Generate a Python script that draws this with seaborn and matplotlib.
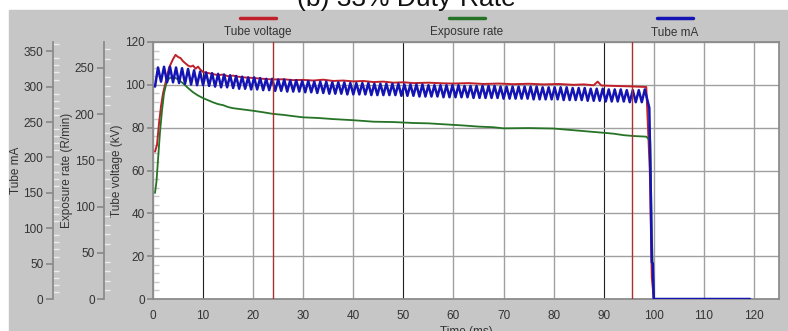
import numpy as np
import matplotlib
matplotlib.use("Agg")
import matplotlib.pyplot as plt
import seaborn as sns
from matplotlib.lines import Line2D
from matplotlib.patches import Rectangle

# tube voltage (kV)
voltage_time = [0.4, 0.8, 1.2, 1.6, 2.0, 2.4, 2.8, 3.2, 3.6, 4.0,
                4.5, 5.0, 5.5, 6.0, 6.5, 7.0, 7.5, 8.0, 8.5, 9.0,
                9.5, 10, 11, 12, 13, 14, 15, 16, 17, 18,
                20, 22, 24, 26, 28, 30, 32, 34, 36, 38,
                40, 42, 44, 46, 48, 50, 52, 55, 58, 60,
                63, 66, 69, 72, 75, 78, 81, 84, 86, 88,
                88.8, 89.5, 92, 95, 98.5, 99.2, 99.6, 100.0]
voltage_kv = [68.8, 72, 82, 90, 96, 100, 104, 108, 110, 112,
              114, 113, 112.5, 111, 110, 109, 108.5, 109, 107.5, 108.5,
              107, 106, 105.5, 105, 104.5, 104.8, 104, 104.3, 103.8, 103.5,
              103.2, 102.8, 102.5, 102.6, 102.2, 102.3, 102, 102.4, 101.8, 102,
              101.6, 101.8, 101.3, 101.5, 101, 101.2, 100.8, 101, 100.7, 100.6,
              100.8, 100.4, 100.6, 100.3, 100.5, 100.2, 100.4, 100, 100.2, 99.8,
              101.5, 99.7, 99.5, 99.3, 99, 60, 10, 0]

# exposure rate (R/min)
exposure_time = [0.4, 0.7, 1.0, 1.4, 1.8, 2.2, 2.7, 3.2, 4.0, 5.0,
                 6, 7, 8, 9, 10, 11, 12, 13, 14, 15,
                 16, 18, 20, 22, 24, 26, 28, 30, 33, 36,
                 40, 44, 48, 52, 55, 58, 62, 65, 68, 70,
                 75, 80, 83, 85, 88, 90, 92, 94, 96, 98.5,
                 99.3, 99.6, 100.0]
exposure_rate = [114.7, 127.4, 150.6, 180.7, 203.9, 222.4, 234, 238.6, 240.5, 237.5,
                 233.3, 228.2, 223.6, 220.1, 217.3, 215, 212.7, 210.8, 209.7, 207.6,
                 206.4, 205, 203.6, 202, 200.2, 199.2, 197.8, 196.5, 195.8, 194.6,
                 193.4, 191.8, 191.4, 190.4, 190, 189, 187.7, 186.5, 185.8, 184.6,
                 184.9, 184.4, 183, 182.1, 180.7, 179.8, 178.8, 177.2, 176.3, 175.6,
                 171, 70, 0]

# tube mA ripple: turning points every 0.6 ms starting at 0.4 ms
ripple_start, ripple_step = 0.4, 0.6
ma_peaks = [327, 328, 328, 327, 326, 325, 323, 321, 320, 319,
            318, 317, 316, 315, 314, 313, 313, 312, 311, 311,
            310, 310, 309, 309, 308, 308, 307, 307, 307, 306,
            306, 306, 305, 305, 305, 305, 304, 304, 304, 304,
            304, 303, 303, 303, 303, 302, 302, 302, 302, 302,
            302, 301, 301, 301, 301, 301, 301, 300, 300, 300,
            300, 300, 300, 300, 299, 299, 299, 299, 299, 298,
            298, 298, 297, 297, 297, 296, 296, 296, 295, 295,
            295, 296]
ma_troughs = [300, 307, 306, 306, 305, 304, 303, 302, 302, 301,
              300, 299, 299, 298, 297, 297, 296, 296, 295, 295,
              294, 294, 293, 293, 293, 292, 292, 291, 291, 290,
              290, 290, 289, 289, 289, 289, 288, 288, 288, 288,
              288, 287, 287, 287, 286, 286, 286, 286, 285, 285,
              285, 285, 285, 284, 284, 284, 284, 284, 283, 283,
              283, 283, 283, 282, 282, 282, 282, 282, 281, 281,
              281, 281, 280, 280, 280, 279, 279, 279, 279, 278,
              278, 278, 279]
ma_tail_time = [99.1, 99.4, 99.6, 99.8, 100.0, 119.2]
ma_tail_value = [270, 150, 52, 50, 0, 0]

cursor_times = [24, 95.7]
time_ticks = list(range(0, 121, 10))

ripple = np.empty(len(ma_peaks) + len(ma_troughs))
ripple[0::2] = ma_troughs
ripple[1::2] = ma_peaks
ripple_time = ripple_start + ripple_step * np.arange(len(ripple))
ma_time = np.concatenate([ripple_time, ma_tail_time])
ma_value = np.concatenate([ripple, ma_tail_value])

sns.set_theme(style="white")
plt.rcParams["font.family"] = ["Liberation Sans", "DejaVu Sans"]

RED, GREEN, BLUE = "#c0202a", "#267226", "#1414b4"
SPINE = "#8a8a8a"
TXT = "#333333"
W, H = 788, 331

fig = plt.figure(figsize=(W / 100, H / 100), dpi=100)
fig.patches.append(Rectangle((9 / W, 0), 1 - 9 / W, 1 - 10 / H,
                             transform=fig.transFigure, color="#c6c6c6", zorder=-10))
ax = fig.add_axes([153 / W, 32 / H, 626 / W, 257 / H])
ax.set_facecolor("white")

ax.set_xlim(0, 125)
ax.set_ylim(0, 120)
ax.set_xticks(time_ticks)
ax.set_yticks(range(0, 121, 20))
ax.set_xticks(np.arange(0, 125, 2), minor=True)
ax.set_yticks(np.arange(0, 120, 4), minor=True)
ax.grid(True, which="major", color="#a0a0a0", lw=1)
for t, gl in zip(time_ticks, ax.get_xgridlines()):
    if t in (10, 50, 90):
        gl.set_color("#202020")
        gl.set_linewidth(0.8)
for s in ax.spines.values():
    s.set_color(SPINE)
ax.tick_params(which="major", direction="out", length=4, color=SPINE,
               labelsize=8.5, labelcolor=TXT, pad=2)
ax.tick_params(which="minor", direction="in", length=4, color="#c8c8c8")
ax.tick_params(axis="x", which="major", pad=4)

sns.lineplot(x=voltage_time, y=voltage_kv, ax=ax, color=RED, lw=1.4,
             estimator=None, sort=False)

ax_exp = ax.twinx()
ax_ma = ax.twinx()
for a, off, top, step in [(ax_exp, 35, 278, 50), (ax_ma, 72, 363, 50)]:
    for k in ("top", "right", "bottom"):
        a.spines[k].set_visible(False)
    a.spines["left"].set_visible(True)
    a.spines["left"].set_position(("outward", off))
    a.spines["left"].set_color(SPINE)
    a.yaxis.tick_left()
    a.yaxis.set_label_position("left")
    a.set_ylim(0, top)
    a.set_yticks(range(0, top, step))
    a.set_yticks(range(0, top, 10), minor=True)
    a.tick_params(which="major", direction="out", length=5, color=SPINE,
                  labelsize=8.5, labelcolor=TXT, pad=2)
    a.tick_params(which="minor", direction="in", length=4, color="#ececec")
    a.grid(False)

sns.lineplot(x=exposure_time, y=exposure_rate, ax=ax_exp, color=GREEN, lw=1.3,
             estimator=None, sort=False)
sns.lineplot(x=ma_time, y=ma_value, ax=ax_ma, color=BLUE, lw=1.8,
             estimator=None, sort=False)
for t in cursor_times:
    ax_ma.axvline(t, color="#a83030", lw=1, zorder=5)

ax.set_xlabel("Time (ms)", fontsize=8.5, color=TXT, labelpad=3)
ax.set_ylabel("Tube voltage (kV)", fontsize=8.5, color=TXT)
ax_exp.set_ylabel("Exposure rate (R/min)", fontsize=8.5, color=TXT)
ax_ma.set_ylabel("Tube mA", fontsize=8.5, color=TXT)
ax.yaxis.set_label_coords(-0.048, 0.5)
ax_exp.yaxis.set_label_coords(-0.128, 0.5)
ax_ma.yaxis.set_label_coords(-0.209, 0.5)

# legend along the top
for label, color, cx in [("Tube voltage", RED, 258), ("Exposure rate", GREEN, 467),
                         ("Tube mA", BLUE, 675)]:
    fig.add_artist(Line2D([(cx - 18) / W, (cx + 18) / W], [1 - 18 / H] * 2,
                          transform=fig.transFigure, color=color, lw=2.5))
    fig.text(cx / W, 1 - 32.5 / H, label, ha="center", va="center",
             fontsize=8.5, color=TXT)

fig.text(406 / W, 1 - 6 / H, "(b) 33% Duty-Rate", ha="center", va="baseline",
         fontsize=19, color="#111111")

fig.savefig("out.png", dpi=100)
